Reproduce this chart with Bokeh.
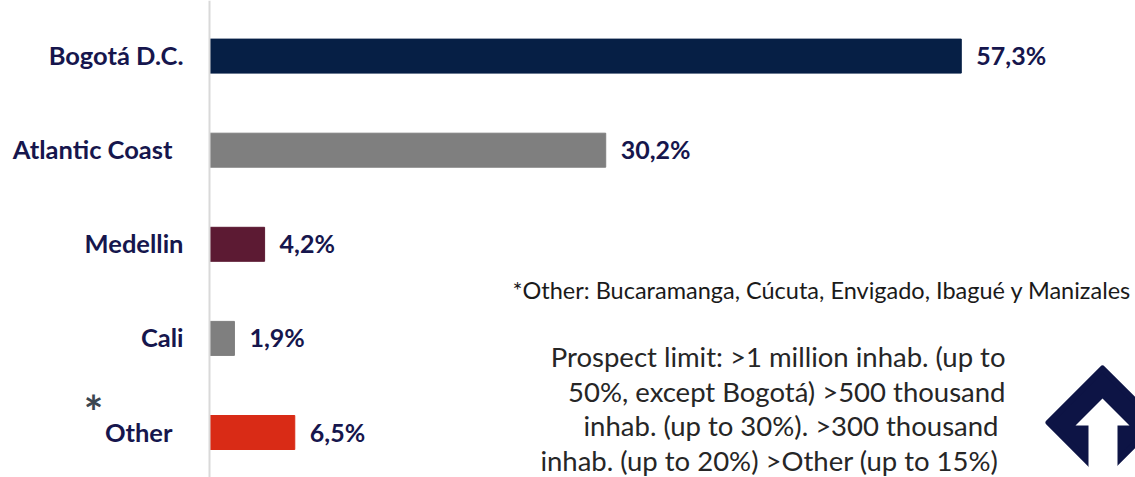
from bokeh.plotting import figure
from bokeh.models import ColumnDataSource, Range1d, Span, Label
from bokeh.core.properties import value
from bokeh.embed import file_html
from bokeh.resources import INLINE

# ---------------- data ----------------
categories = ["Bogotá D.C.", "Atlantic Coast", "Medellin", "Cali", "Other"]
shares = [57.3, 30.2, 4.2, 1.9, 6.5]
bar_colors = ["#061f45", "#7f7f7f", "#5c1a33", "#7f7f7f", "#d92b16"]
footnote = "*Other: Bucaramanga, Cúcuta, Envigado, Ibagué y Manizales"
prospect_lines = [
    "Prospect limit: >1 million inhab. (up to",
    "50%, except Bogotá) >500 thousand",
    "inhab. (up to 30%).  >300 thousand",
    "inhab. (up to 20%)  >Other (up to 15%)",
]

# ---------------- layout / style ----------------
WIN_OFF = 0
W, H = 1135, 477
AXIS_PX = 209          # window x of the zero line
PX_PER_PCT = 13.12     # pixels per percentage point
ROW_PX = 94.1          # pixels between bar centres
LAST_ROW_PX = 432      # window y of the last bar centre
LABEL_DX = [-26, -37, -26, -26, -37]
NAVY = "#16164d"
TXT_SHIFT = 10         # baseline correction for rendered text


def px_x(wx):
    return (wx - AXIS_PX) / PX_PER_PCT


def px_y(wy):
    return (LAST_ROW_PX - wy) / ROW_PX


rows = list(range(len(categories)))[::-1]
pct_text = [f"{v:.1f}".replace(".", ",") + "%" for v in shares]

src = ColumnDataSource(dict(row=rows, share=shares, color=bar_colors,
                            cat=categories, pct=pct_text, dx=LABEL_DX))

p = figure(width=W, height=H, output_backend="svg", toolbar_location=None,
           x_range=Range1d(px_x(WIN_OFF), px_x(WIN_OFF + W)),
           y_range=Range1d(px_y(WIN_OFF + H), px_y(WIN_OFF)),
           x_axis_location=None, y_axis_location=None,
           min_border=0, outline_line_color=None,
           background_fill_color="white", border_fill_color="white")
p.grid.visible = False

p.hbar(y="row", left=0, right="share", height=34 / ROW_PX,
       fill_color="color", line_color="color", source=src)

p.add_layout(Span(location=0, dimension="height", line_color="#d9d9d9", line_width=2))

p.text(x=0, y="row", text="cat", x_offset="dx", y_offset=9 - TXT_SHIFT,
       text_align="right", text_baseline="alphabetic",
       text_font=value("Lato"), text_font_style="bold", text_font_size="25.5px",
       text_color=NAVY, source=src)

p.text(x="share", y="row", text="pct", x_offset=15, y_offset=9 - TXT_SHIFT,
       text_align="left", text_baseline="alphabetic",
       text_font=value("Lato"), text_font_style="bold", text_font_size="25px",
       text_color=NAVY, source=src)

# asterisk near "Other"
p.add_layout(Label(x=93 - WIN_OFF, y=WIN_OFF + H - 411, x_units="screen", y_units="screen",
                   text="*", text_align="center", text_baseline="middle",
                   text_font="Lato", text_font_style="bold", text_font_size="46px",
                   text_color="#3b4650"))

# footnote
p.add_layout(Label(x=512 - WIN_OFF, y=WIN_OFF + H - 299 + TXT_SHIFT, x_units="screen", y_units="screen",
                   text=footnote, text_align="left", text_baseline="alphabetic",
                   text_font="Lato", text_font_size="23.5px", text_color="#1a1a1a"))

# prospect-limit note
for i, line in enumerate(prospect_lines):
    p.add_layout(Label(x=1005 - WIN_OFF, y=WIN_OFF + H - (366 + 34.5 * i) + TXT_SHIFT,
                       x_units="screen", y_units="screen",
                       text=line, text_align="right", text_baseline="alphabetic",
                       text_font="Lato", text_font_size="27.5px", text_color="#262626"))

# logo (decoration)
dia = [(1102, 368), (1156, 422), (1102, 476), (1048, 422)]
p.patch([px_x(a) for a, b in dia], [px_y(b) for a, b in dia],
        fill_color="#0d1445", line_color="#0d1445", line_width=6, line_join="round")
arrow = [(1102, 398), (1129, 425), (1117, 425), (1117, 490), (1088, 490), (1088, 425), (1075, 425)]
p.patch([px_x(a) for a, b in arrow], [px_y(b) for a, b in arrow],
        fill_color="white", line_color="white", line_width=0)

open("out.html", "w").write(file_html(p, INLINE))
